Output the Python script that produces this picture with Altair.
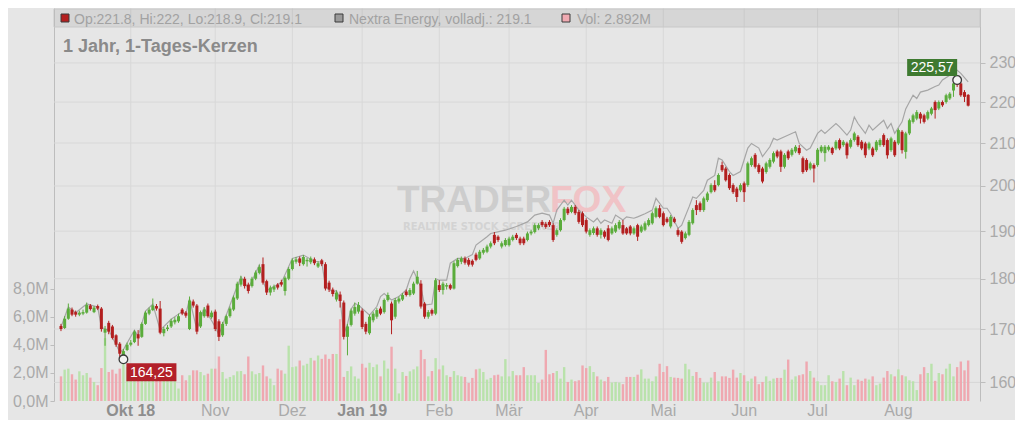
import altair as alt
import pandas as pd

# ---------------- data ----------------
open_ = [
    170.6, 170.2, 172.0, 173.8, 173.3, 172.8, 173.0, 173.2, 174.6, 173.3,
    174.5, 174.0, 169.3, 171.2, 170.5, 168.8, 167.2, 164.8, 166.0, 167.0,
    167.5, 169.0, 168.5, 171.0, 173.0, 173.7, 174.5, 174.0, 169.2, 170.0,
    170.5, 171.3, 171.5, 173.8, 173.2, 170.0, 175.4, 174.6, 170.5, 172.5,
    174.6, 172.3, 173.4, 171.5, 168.8, 171.0, 172.5, 173.8, 176.0, 178.8,
    180.0, 178.8, 178.5, 180.0, 181.2, 183.0, 179.5, 177.2, 177.8, 178.8,
    179.3, 177.5, 180.0, 182.0, 183.5, 184.2, 183.0, 183.6, 183.4, 184.0,
    182.5, 183.8, 183.0, 179.2, 177.8, 175.8, 176.8, 175.2, 168.5, 170.8,
    173.0, 173.4, 173.6, 171.0, 169.2, 171.7, 172.4, 174.0, 173.3, 175.7,
    175.0, 172.4, 175.4, 175.8, 177.4, 176.7, 177.0, 179.0, 179.0, 175.0,
    172.4, 173.7, 173.0, 178.7, 177.7, 178.4, 178.7, 178.0, 182.6, 183.5,
    184.2, 183.9, 183.7, 185.0, 184.2, 185.4, 185.6, 186.7, 189.2, 188.8,
    186.7, 187.0, 187.0, 188.1, 189.2, 188.4, 188.4, 188.1, 189.5, 189.8,
    190.6, 192.0, 191.6, 192.0, 191.3, 189.2, 190.2, 192.4, 194.9, 194.2,
    195.3, 194.2, 193.9, 192.4, 189.2, 189.6, 190.6, 189.2, 189.9, 190.6,
    189.5, 189.9, 190.6, 191.3, 190.6, 191.0, 189.5, 191.3, 189.9, 190.3,
    191.3, 191.7, 193.1, 195.0, 193.9, 192.7, 191.0, 192.7, 190.2, 189.9,
    188.5, 189.2, 191.7, 195.7, 196.1, 194.6, 196.8, 198.6, 200.2, 200.2,
    204.8, 204.0, 202.5, 200.2, 199.4, 199.0, 200.6, 200.2, 204.8, 207.2,
    204.8, 204.0, 203.2, 204.4, 205.6, 208.0, 208.0, 204.4, 208.0, 207.2,
    208.0, 208.8, 206.4, 206.0, 204.0, 204.8, 204.8, 208.0, 207.6, 208.4,
    208.8, 208.7, 210.7, 209.5, 209.9, 209.1, 210.7, 211.5, 210.3, 209.9,
    208.7, 208.7, 208.3, 209.5, 211.9, 210.7, 208.3, 210.3, 209.9, 212.7,
    207.9, 212.3, 215.1, 215.9, 217.1, 216.7, 215.9, 217.1, 220.0, 218.4,
    220.0, 220.0, 220.9, 222.9, 225.3, 224.7, 222.5, 221.8,
]
close_ = [
    170.0, 172.0, 174.0, 172.8, 172.8, 173.2, 173.3, 174.7, 173.9, 174.2,
    174.0, 170.0, 170.0, 169.5, 168.3, 167.0, 165.3, 165.8, 167.0, 167.4,
    169.5, 168.2, 171.0, 173.2, 173.8, 174.6, 174.0, 169.3, 170.0, 170.3,
    171.6, 171.8, 172.5, 173.0, 172.6, 175.6, 174.6, 169.5, 173.3, 173.8,
    172.5, 173.2, 170.0, 168.5, 171.0, 172.5, 174.0, 176.2, 179.0, 180.0,
    178.5, 177.5, 180.0, 181.3, 182.4, 179.2, 177.2, 178.2, 178.4, 178.2,
    178.8, 180.2, 182.0, 183.8, 184.0, 183.3, 184.5, 183.9, 184.2, 183.2,
    183.2, 183.0, 178.0, 177.8, 176.9, 177.2, 175.5, 168.5, 170.5, 173.6,
    174.3, 174.7, 170.4, 169.5, 172.4, 173.0, 173.7, 173.0, 175.7, 176.7,
    171.7, 175.7, 176.0, 176.7, 176.7, 177.7, 179.0, 180.4, 174.4, 172.4,
    173.3, 173.0, 179.7, 177.7, 179.0, 178.7, 178.0, 183.2, 183.9, 184.2,
    183.3, 182.9, 182.9, 183.9, 185.6, 186.0, 186.7, 187.4, 187.4, 188.1,
    187.4, 188.1, 188.4, 188.8, 188.5, 187.4, 187.4, 189.5, 189.9, 191.3,
    191.3, 191.3, 190.9, 191.3, 188.1, 190.2, 192.4, 194.9, 193.9, 195.3,
    193.9, 192.0, 191.3, 189.9, 190.2, 190.6, 189.2, 190.2, 188.8, 188.1,
    190.6, 191.3, 192.0, 189.5, 189.5, 189.5, 190.6, 188.8, 191.0, 191.7,
    192.4, 193.9, 195.0, 193.1, 191.3, 192.0, 193.1, 192.0, 189.2, 187.7,
    189.5, 192.0, 194.6, 194.6, 194.6, 197.2, 198.3, 200.2, 199.0, 202.5,
    203.6, 201.3, 199.5, 198.6, 197.5, 200.2, 198.6, 205.2, 206.4, 204.4,
    203.2, 201.0, 205.2, 206.0, 207.6, 206.8, 204.4, 207.2, 206.4, 208.4,
    209.1, 207.6, 203.2, 203.6, 205.2, 204.0, 208.4, 209.1, 209.1, 209.1,
    207.6, 210.3, 208.7, 210.3, 207.1, 210.7, 212.3, 209.5, 208.7, 207.1,
    209.9, 207.1, 210.3, 210.7, 209.5, 207.1, 211.1, 207.1, 213.1, 208.3,
    212.3, 215.5, 216.7, 217.5, 215.9, 215.1, 217.5, 218.4, 218.0, 220.0,
    219.2, 221.7, 222.1, 224.7, 224.3, 221.7, 221.3, 219.1,
]
high_ = [
    171.0, 172.5, 175.0, 174.2, 173.6, 173.6, 173.8, 175.2, 174.9, 174.5,
    174.8, 174.3, 170.6, 171.6, 170.8, 169.0, 167.5, 166.2, 167.4, 167.9,
    169.8, 169.8, 171.3, 173.5, 174.2, 176.0, 174.9, 175.5, 170.4, 170.8,
    172.0, 172.3, 173.0, 174.1, 173.5, 176.4, 175.8, 174.9, 173.6, 174.3,
    175.0, 173.6, 173.8, 171.9, 171.4, 172.8, 174.4, 176.6, 179.4, 180.6,
    180.4, 179.2, 180.4, 181.7, 182.9, 184.4, 179.8, 178.6, 178.8, 179.1,
    179.8, 180.5, 182.4, 184.2, 184.5, 184.6, 184.9, 184.3, 184.6, 184.4,
    183.6, 184.1, 183.4, 179.6, 178.2, 177.6, 177.4, 175.6, 171.0, 174.0,
    175.2, 175.3, 174.0, 171.4, 172.8, 173.4, 174.1, 174.4, 176.0, 177.2,
    175.4, 176.1, 176.4, 177.1, 177.8, 178.1, 179.4, 181.6, 179.7, 175.3,
    173.7, 174.0, 180.1, 179.7, 179.4, 179.1, 179.0, 183.6, 184.3, 184.6,
    184.6, 184.3, 184.0, 185.4, 186.0, 186.4, 187.1, 187.8, 189.8, 189.1,
    187.8, 188.5, 188.8, 189.2, 189.6, 188.8, 188.8, 189.9, 190.3, 191.7,
    191.7, 192.4, 192.0, 192.4, 191.7, 190.6, 192.8, 195.3, 195.3, 195.7,
    195.7, 194.6, 194.3, 192.8, 190.6, 191.0, 191.0, 190.6, 190.2, 191.3,
    191.0, 191.7, 192.4, 192.4, 190.9, 191.3, 191.0, 191.6, 191.4, 192.1,
    192.8, 194.3, 195.4, 195.7, 194.3, 193.1, 193.5, 193.1, 190.6, 190.2,
    189.9, 192.4, 195.0, 196.8, 196.5, 197.6, 198.7, 200.6, 201.3, 202.9,
    205.6, 204.4, 202.9, 200.6, 199.8, 200.6, 201.0, 205.6, 206.8, 207.6,
    205.2, 204.4, 205.6, 206.4, 208.0, 208.4, 208.4, 207.6, 208.4, 208.8,
    209.5, 209.5, 206.8, 206.4, 205.6, 205.2, 208.8, 209.5, 209.5, 209.5,
    209.1, 210.7, 211.1, 210.7, 210.3, 211.1, 212.7, 211.9, 210.7, 210.3,
    210.3, 209.1, 210.7, 211.1, 212.3, 211.1, 211.5, 210.7, 213.5, 213.1,
    212.7, 215.9, 217.1, 218.0, 217.5, 217.1, 217.9, 218.8, 220.4, 220.4,
    220.4, 222.1, 222.5, 225.0, 225.57, 225.0, 223.0, 222.0,
]
low_ = [
    169.6, 170.0, 171.8, 172.5, 172.4, 172.5, 172.7, 173.0, 173.6, 173.1,
    173.7, 169.5, 166.8, 169.0, 168.0, 166.6, 164.6, 164.25, 165.8, 166.7,
    167.3, 166.8, 168.3, 170.8, 172.7, 173.5, 173.6, 169.0, 168.6, 169.6,
    170.2, 170.9, 171.2, 172.7, 172.2, 169.8, 174.2, 169.0, 170.2, 172.2,
    172.2, 172.0, 169.6, 167.7, 168.5, 170.6, 172.2, 173.5, 175.7, 178.4,
    178.0, 177.0, 178.2, 179.7, 180.9, 178.8, 176.7, 176.6, 177.3, 177.8,
    178.4, 176.6, 179.7, 181.7, 183.1, 182.6, 182.7, 182.5, 183.0, 182.8,
    182.2, 182.6, 177.6, 177.3, 176.4, 175.4, 174.2, 168.0, 165.0, 170.5,
    172.6, 173.0, 170.0, 169.0, 168.9, 171.3, 172.0, 172.7, 173.0, 175.4,
    169.0, 172.0, 175.0, 175.5, 176.4, 176.4, 176.7, 178.8, 174.0, 172.0,
    172.0, 172.6, 172.7, 177.3, 176.8, 177.8, 177.7, 177.8, 182.3, 183.0,
    182.9, 182.5, 182.5, 183.6, 183.9, 185.0, 185.3, 186.3, 187.0, 187.7,
    186.3, 186.7, 186.7, 187.8, 188.1, 187.0, 187.0, 187.8, 189.1, 189.5,
    190.2, 190.9, 190.5, 190.9, 187.7, 188.8, 189.9, 192.1, 193.5, 193.9,
    193.5, 191.6, 190.9, 189.5, 188.8, 189.2, 188.8, 188.4, 188.4, 187.8,
    189.2, 189.6, 190.3, 189.2, 189.2, 189.1, 189.2, 187.9, 189.6, 190.0,
    191.0, 191.4, 192.8, 192.8, 191.0, 191.7, 190.6, 191.7, 188.8, 187.3,
    188.2, 188.9, 191.4, 193.5, 194.2, 194.2, 196.4, 198.3, 198.6, 199.9,
    203.2, 201.0, 199.1, 198.2, 196.4, 198.6, 196.4, 199.8, 204.4, 204.0,
    202.8, 200.6, 202.8, 204.0, 205.2, 206.4, 203.2, 204.0, 206.0, 206.8,
    207.6, 207.2, 202.8, 203.2, 203.6, 200.8, 204.4, 207.6, 205.6, 208.0,
    207.2, 208.3, 208.3, 209.1, 206.3, 208.7, 210.3, 209.1, 208.3, 206.5,
    208.3, 206.7, 207.9, 209.1, 209.1, 206.3, 207.9, 206.7, 209.5, 207.5,
    206.3, 211.9, 214.7, 215.5, 214.7, 214.7, 215.5, 216.7, 215.9, 218.0,
    218.8, 219.6, 220.5, 221.3, 223.8, 221.3, 220.0, 218.9,
]
volume = [
    1.76, 2.24, 2.31, 1.91, 1.53, 2.12, 1.84, 2.00, 1.67, 1.36,
    1.13, 2.35, 4.49, 2.07, 2.24, 1.95, 2.31, 3.13, 2.42, 2.30,
    2.10, 1.90, 2.20, 2.00, 1.80, 2.10, 1.90, 2.60, 2.20, 1.70,
    1.50, 1.60, 0.89, 1.84, 1.48, 1.84, 2.19, 2.19, 2.07, 1.84,
    1.95, 2.31, 2.31, 3.18, 2.07, 1.60, 1.72, 1.84, 2.12, 2.14,
    1.91, 3.18, 2.12, 1.91, 2.00, 2.54, 1.76, 1.60, 1.13, 2.31,
    2.19, 1.95, 3.95, 2.42, 2.47, 2.89, 2.54, 2.66, 3.08, 2.89,
    3.25, 3.01, 3.32, 3.01, 3.36, 3.36, 5.84, 1.72, 2.14, 2.47,
    1.76, 1.60, 2.66, 2.38, 2.73, 2.42, 2.61, 1.76, 2.89, 2.31,
    3.88, 2.31, 0.54, 2.07, 1.79, 2.12, 2.26, 2.47, 3.65, 2.99,
    1.76, 2.14, 3.06, 2.26, 2.54, 1.84, 1.72, 2.14, 1.84, 1.76,
    1.72, 1.29, 1.65, 2.26, 2.31, 2.07, 1.53, 1.65, 1.84, 1.88,
    1.76, 2.99, 1.76, 2.14, 1.84, 1.84, 2.42, 1.84, 1.84, 1.84,
    1.29, 1.53, 3.65, 1.91, 2.00, 2.14, 1.60, 2.42, 1.36, 1.53,
    1.41, 1.48, 2.54, 2.35, 2.49, 2.07, 1.76, 1.53, 1.41, 1.72,
    1.32, 1.36, 1.32, 1.20, 1.72, 1.72, 1.72, 1.88, 2.26, 1.60,
    1.60, 1.41, 1.76, 2.66, 2.07, 2.49, 1.72, 1.67, 1.65, 1.60,
    2.66, 2.26, 1.79, 2.07, 1.65, 1.32, 1.32, 1.67, 2.07, 1.41,
    1.76, 1.76, 1.65, 2.24, 1.67, 2.00, 1.84, 1.41, 1.60, 1.76,
    1.20, 1.36, 1.76, 1.44, 1.60, 1.65, 1.65, 2.24, 2.96, 1.53,
    1.76, 1.84, 1.91, 2.82, 2.14, 1.67, 1.41, 1.13, 1.13, 1.84,
    1.41, 1.36, 1.60, 2.14, 1.13, 1.67, 1.13, 1.53, 1.44, 1.60,
    1.53, 1.76, 1.13, 1.25, 1.67, 2.14, 1.91, 1.76, 2.26, 1.84,
    1.76, 1.48, 1.41, 0.78, 1.91, 2.42, 2.00, 2.66, 1.44, 2.00,
    1.91, 2.31, 2.66, 1.76, 2.42, 2.82, 2.19, 2.892,
]

line_idx = [
    0, 2, 4, 7, 10, 11, 13, 16, 17, 20, 21, 23, 25, 27, 30, 33, 34, 35, 37, 39,
    40, 42, 43, 47, 49, 51, 54, 55, 56, 60, 63, 66, 69, 71, 72, 74, 75, 76, 77, 78,
    79, 80, 81, 84, 86, 87, 88, 90, 92, 94, 95, 96, 98, 99, 101, 102, 103, 105, 106, 108,
    110, 112, 113, 116, 117, 121, 124, 127, 129, 131, 133, 134, 135, 137, 138, 139, 141, 143, 145, 146,
    147, 148, 150, 151, 153, 154, 156, 157, 159, 161, 162, 164, 165, 166, 168, 169, 171, 172, 173, 175,
    176, 178, 179, 180, 182, 183, 185, 187, 188, 190, 191, 193, 194, 195, 197, 200, 201, 203, 204, 206,
    207, 208, 209, 211, 212, 214, 215, 216, 217, 219, 220, 221, 223, 224, 225, 226, 227, 229, 230, 231,
    232, 233, 234, 236, 238, 239, 240, 242, 243, 244, 245, 247,
]
line_val = [
    170.4, 174.3, 173.2, 174.9, 174.3, 170.3, 169.8, 165.6, 166.1, 169.8, 168.6, 173.5, 174.9, 169.8, 171.9, 173.4, 172.9, 175.9, 169.9, 174.1,
    172.9, 170.4, 168.9, 176.6, 180.4, 178.0, 182.8, 179.6, 177.6, 179.2, 184.2, 184.9, 183.6, 183.4, 178.5, 177.3, 177.6, 175.9, 169.0, 171.0,
    173.9, 175.0, 174.7, 172.7, 174.4, 176.4, 177.0, 175.7, 176.4, 177.7, 180.0, 181.6, 178.3, 174.7, 174.9, 180.0, 179.7, 179.7, 183.2, 184.2,
    184.2, 185.0, 187.0, 188.8, 189.5, 190.2, 191.0, 192.0, 193.5, 193.9, 193.5, 191.7, 194.6, 196.8, 195.7, 196.8, 194.6, 193.1, 192.0, 192.8,
    191.7, 192.4, 191.7, 193.5, 192.4, 193.1, 192.8, 193.1, 193.8, 194.6, 197.2, 195.0, 195.0, 193.8, 190.6, 191.3, 195.3, 197.5, 197.2, 199.0,
    201.3, 202.4, 206.4, 206.0, 203.3, 202.4, 203.3, 208.8, 209.9, 208.8, 206.8, 209.1, 211.1, 210.7, 211.5, 212.7, 209.9, 208.3, 208.8, 212.3,
    213.1, 212.3, 213.1, 214.7, 213.9, 211.9, 213.1, 216.3, 214.7, 212.3, 214.3, 213.1, 214.7, 215.5, 213.5, 214.7, 212.3, 215.1, 218.3, 220.0,
    221.7, 220.9, 222.5, 223.0, 223.9, 224.3, 225.6, 226.8, 227.6, 228.1, 227.3, 225.1,
]

month_idx = [19, 42, 63, 82, 103, 122, 143, 164, 186, 206, 228]
month_lbl = ["Okt 18", "Nov", "Dez", "Jan 19", "Feb", "Mär", "Apr", "Mai", "Jun", "Jul", "Aug"]

ann_idx = [17, 244]
ann_val = [164.25, 225.57]
ann_txt = ["164,25", "225,57"]

vol_ticks = [0, 2, 4, 6, 8]
price_ticks = [160, 170, 180, 190, 200, 210, 220, 230]

assert len(open_) == len(close_) == len(high_) == len(low_) == len(volume)
assert len(line_idx) == len(line_val)

# ---------------- styling ----------------
FONT = "Liberation Sans"
W, H = 926, 393
BG = "#e6e6e6"
GRID = "#d8d8d8"
AXC = "#bdbdbd"
LBL = "#aaaaaa"
C_UP, C_DN = "#5aac3b", "#b31f1f"
V_UP, V_DN = "#b9e2ab", "#efa8b0"

n = len(close_)
df = pd.DataFrame({"i": list(range(n)), "o": open_, "c": close_, "h": high_, "l": low_, "v": volume})
ups = [c >= o for o, c in zip(open_, close_)]
df["cc"] = [C_UP if u else C_DN for u in ups]
df["vc"] = [V_UP if u else V_DN for u in ups]
line_df = pd.DataFrame({"i": line_idx, "p": line_val})
ann_df = pd.DataFrame({"i": ann_idx, "p": ann_val, "t": ann_txt})
low_df = ann_df.iloc[[0]]
high_df = ann_df.iloc[[1]]
mon_df = pd.DataFrame({"i": month_idx, "t": month_lbl})
mon_year = mon_df[mon_df["t"].str.contains(" ")]      # "Okt 18", "Jan 19" are bold
mon_plain = mon_df[~mon_df["t"].str.contains(" ")]

x_scale = alt.Scale(domain=[-0.54, 248.86], nice=False, zero=False)
p_scale = alt.Scale(type="log", domain=[156.66, 244.8], nice=False, zero=False)
v_scale = alt.Scale(domain=[0, 28.07], nice=False, zero=True)

x_axis = alt.Axis(
    orient="bottom", values=month_idx, labels=False, title=None, grid=False,
    domainColor=AXC, tickColor=AXC, tickSize=4,
)
v_axis = alt.Axis(
    orient="left", values=vol_ticks, title=None, grid=False,
    labelExpr="replace(format(datum.value, '.1f'), '.', ',') + 'M'",
    domainColor=AXC, tickColor=AXC, tickSize=4, labelPadding=2,
    labelFont=FONT, labelFontSize=16, labelColor=LBL,
)
p_axis = alt.Axis(
    orient="right", values=price_ticks, format="d", title=None, grid=False,
    domainColor=AXC, tickColor=AXC, tickSize=5, labelPadding=4,
    labelFont=FONT, labelFontSize=16, labelColor=LBL,
)

xe = alt.X("i:Q", scale=x_scale, axis=None)

def py(field, axis=None):
    return alt.Y(field, scale=p_scale, axis=axis)

one = alt.Data(values=[{"k": 0}])

def txt(s, x, y, size, color, weight="normal", font=FONT, align="left"):
    return alt.Chart(one).mark_text(
        text=s, font=font, fontSize=size, fontWeight=weight, color=color,
        align=align, baseline="alphabetic",
    ).encode(x=alt.value(x), y=alt.value(y))

# grid lines drawn from the tick lists
grid_x = alt.Chart(pd.DataFrame({"i": month_idx})).mark_rule(color=GRID, strokeWidth=1).encode(x=xe)
grid_y = alt.Chart(pd.DataFrame({"p": price_ticks})).mark_rule(color=GRID, strokeWidth=1).encode(y=py("p:Q"))

vol = alt.Chart(df).mark_bar(size=2.4, orient="vertical").encode(
    x=alt.X("i:Q", scale=x_scale, axis=x_axis),
    y=alt.Y("v:Q", scale=v_scale, axis=v_axis),
    color=alt.Color("vc:N", scale=None),
)

# month labels under the x axis
MON_Y = 407.5
mon_b = alt.Chart(mon_year).mark_text(
    font=FONT, fontSize=16, fontWeight="bold", color="#8e8e8e", align="center", baseline="alphabetic",
).encode(x=xe, y=alt.value(MON_Y), text="t:N")
mon_n = alt.Chart(mon_plain).mark_text(
    font=FONT, fontSize=16, color=LBL, align="center", baseline="alphabetic",
).encode(x=xe, y=alt.value(MON_Y), text="t:N")

wm1 = txt("TRADER", 343, 204, 37, "#cdcdcd", "bold")
wm2 = txt("FOX", 496, 204, 37, "#f0c3c6", "bold")
wm3 = txt("REALTIME STOCK SCREENER", 349, 222, 10, "#d3d3d3", "bold", "DejaVu Sans")

line = alt.Chart(line_df).mark_line(color="#a6a6a6", strokeWidth=1.2).encode(x=xe, y=py("p:Q"))

wicks = alt.Chart(df).mark_rule(strokeWidth=1).encode(
    x=xe, y=py("l:Q", p_axis), y2="h:Q", color=alt.Color("cc:N", scale=None))

bodies = alt.Chart(df).mark_rule(strokeWidth=3, strokeCap="butt").encode(
    x=xe, y=py("o:Q"), y2="c:Q", color=alt.Color("cc:N", scale=None))

circ = alt.Chart(ann_df).mark_point(
    shape="circle", filled=True, fill="#f3f3f3", stroke="#3a3a3a",
    strokeWidth=1.3, size=75, opacity=1, fillOpacity=1,
).encode(x=xe, y=py("p:Q"))

low_box = alt.Chart(low_df).mark_rect(
    color="#b3202a", xOffset=3, x2Offset=53, yOffset=4, y2Offset=22,
).encode(x=xe, x2="i:Q", y=py("p:Q"), y2="p:Q")
low_txt = alt.Chart(low_df).mark_text(
    font=FONT, fontSize=14, color="white", align="center", baseline="middle", dx=28, dy=13.5,
).encode(x=xe, y=py("p:Q"), text="t:N")

high_box = alt.Chart(high_df).mark_rect(
    color="#3e7a30", xOffset=-50, x2Offset=0, yOffset=-21, y2Offset=-4,
).encode(x=xe, x2="i:Q", y=py("p:Q"), y2="p:Q")
high_txt = alt.Chart(high_df).mark_text(
    font=FONT, fontSize=14, color="white", align="center", baseline="middle", dx=-25, dy=-12.5,
).encode(x=xe, y=py("p:Q"), text="t:N")

band = alt.Chart(one).mark_rect(
    fill="#000000", fillOpacity=0.065, stroke="#c8c8c8", strokeWidth=1,
).encode(x=alt.value(0), x2=alt.value(W), y=alt.value(1), y2=alt.value(19))

def sq(x, color):
    return alt.Chart(one).mark_rect(fill=color, stroke="#3a3a3a", strokeWidth=1).encode(
        x=alt.value(x), x2=alt.value(x + 8), y=alt.value(6), y2=alt.value(14))

hdr1 = "Op:%s, Hi:%s, Lo:%s, Cl:%s" % (open_[-1], "%g" % high_[-1], low_[-1], close_[-1])
hdr2 = "Nextra Energy, volladj.: %s" % close_[-1]
hdr3 = "Vol: %.3fM" % volume[-1]

chart = alt.layer(
    grid_x, grid_y, vol, mon_b, mon_n, wm1, wm2, wm3, line, wicks, bodies, circ,
    low_box, low_txt, high_box, high_txt,
    band,
    sq(7, C_DN), txt(hdr1, 20, 15.5, 14, "#a2a2a2"),
    sq(281, "#9a9a9a"), txt(hdr2, 295, 15.5, 14, "#a2a2a2"),
    sq(508, "#f0aab2"), txt(hdr3, 523, 15.5, 14, "#a2a2a2"),
    txt("1 Jahr, 1-Tages-Kerzen", 9, 44, 18, "#8a8a8a", "bold"),
).resolve_scale(y="independent").properties(
    width=W, height=H,
    padding={"left": 46, "top": 0, "right": 35, "bottom": 19},
    autosize=alt.AutoSizeParams(type="none"),
    background=BG,
).configure_view(stroke=None, fill=BG)

chart.save("out.html", embed_options={"renderer": "svg", "actions": False})
